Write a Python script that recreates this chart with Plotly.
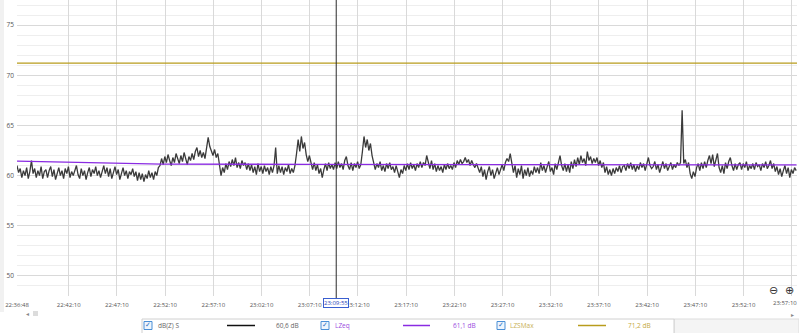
import pandas as pd
import plotly.graph_objects as go

# ---------------- data ----------------
start_time = "2024-01-01 22:36:48"
sample_step = "10s"
end_time = "2024-01-01 23:57:43"

dbz_s = [
    61.0, 60.3, 60.7, 59.8, 60.5, 60.0, 60.8, 59.7, 60.4, 61.5, 60.2, 60.7, 59.8, 60.5, 60.0, 60.9, 59.7, 60.4,
    60.6, 59.8, 60.5, 60.9, 59.9, 60.6, 59.6, 60.3, 60.8, 60.0, 60.5, 59.7, 60.7, 60.2, 60.9, 59.8, 60.4, 60.0,
    60.6, 61.0, 60.1, 59.7, 60.7, 60.0, 60.5, 59.6, 60.3, 60.8, 59.9, 60.6, 60.2, 60.9, 60.0, 60.5, 59.8, 60.4,
    61.0, 60.2, 60.8, 59.9, 60.7, 59.7, 60.4, 60.9, 60.1, 60.6, 59.6, 60.3, 60.8, 60.0, 60.5, 59.7, 60.4, 60.1,
    60.7, 59.9, 60.4, 59.5, 60.3, 59.6, 60.2, 59.4, 60.1, 59.7, 60.5, 59.8, 60.3, 59.6, 60.4, 60.0, 60.8, 61.0,
    61.7, 61.1, 61.9, 61.3, 62.1, 61.5, 61.0, 61.8, 61.3, 62.2, 61.6, 61.2, 62.0, 61.4, 62.3, 61.7, 61.1, 61.9,
    61.5, 62.2, 61.6, 62.4, 62.8, 61.9, 62.5, 61.8, 62.3, 61.7, 62.6, 63.8, 62.9, 62.5, 62.0, 62.6, 61.8, 62.2,
    61.0, 60.0, 60.8, 60.3, 61.2, 60.6, 61.4, 60.9, 61.6, 61.0, 61.8, 60.8, 61.3, 60.7, 61.5, 61.0, 61.3, 60.6,
    61.2, 60.5, 61.1, 60.3, 60.9, 60.1, 61.2, 60.4, 60.9, 60.2, 61.0, 60.4, 60.8, 60.1, 60.9, 60.3, 61.0, 62.8,
    60.2, 61.0, 60.3, 60.9, 60.1, 60.8, 60.4, 61.1, 60.2, 60.7, 60.3, 61.0, 62.2, 63.6, 62.4, 63.9, 62.7, 63.3,
    62.1, 61.4, 62.0, 61.1, 60.6, 61.3, 60.5, 61.1, 60.2, 60.7, 59.8, 60.6, 61.2, 60.5, 61.3, 60.7, 61.1, 60.6,
    61.3, 60.7, 61.4, 60.8, 61.2, 60.6, 61.5, 61.9, 61.0, 60.6, 61.3, 60.5, 61.2, 60.8, 61.4, 60.7, 61.1, 62.4,
    63.9, 62.8, 63.6, 62.5, 63.2, 62.0, 61.3, 60.6, 61.2, 60.8, 61.4, 60.5, 61.0, 60.4, 61.2, 60.7, 61.3, 60.6,
    60.9, 60.3, 61.0, 60.4, 59.8, 60.6, 60.2, 61.0, 60.5, 61.2, 60.6, 61.3, 60.7, 61.1, 60.5, 61.2, 60.8, 61.4,
    60.8, 61.3, 61.0, 62.0, 61.3, 60.7, 61.5, 60.6, 61.2, 60.4, 61.0, 60.5, 60.9, 60.3, 61.1, 60.6, 61.2, 60.7,
    61.0, 60.6, 61.3, 60.8, 61.5, 61.1, 61.6, 61.2, 61.4, 61.8, 61.3, 61.6, 61.0, 61.5, 61.1, 60.8, 61.2, 60.7,
    60.3, 60.9, 59.9, 60.6, 59.6, 60.4, 60.9, 60.0, 60.6, 59.7, 60.3, 60.8, 60.1, 60.7, 61.1, 60.5, 61.3, 61.7,
    61.4, 62.2, 61.2, 60.3, 61.0, 59.8, 60.7, 60.1, 61.0, 59.7, 60.6, 60.0, 60.8, 59.9, 60.5, 60.1, 60.9, 60.3,
    60.8, 60.2, 61.3, 60.5, 61.0, 60.3, 60.9, 61.4, 60.4, 60.8, 60.1, 61.2, 60.6, 61.3, 62.0, 61.0, 60.5, 61.2,
    60.4, 61.1, 60.3, 61.4, 60.7, 61.6, 60.9, 61.8, 61.1, 62.0, 61.3, 61.7, 61.0, 62.4, 61.5, 61.9, 61.2, 61.7,
    61.3, 61.8, 61.0, 61.5, 60.8, 61.3, 60.3, 60.9, 60.1, 60.6, 60.0, 60.7, 60.2, 60.8, 60.4, 61.0, 60.3, 60.9,
    61.0, 60.5, 61.2, 60.7, 61.3, 60.6, 61.1, 60.4, 61.0, 60.6, 61.3, 60.8, 61.2, 60.5, 61.1, 61.8, 61.0, 60.7,
    60.9, 61.4, 60.6, 61.1, 60.3, 60.9, 61.4, 60.7, 61.2, 60.5, 61.0, 61.3, 60.6, 61.1, 60.8, 61.3, 61.0, 61.3,
    66.5, 61.2, 61.6, 60.8, 61.3, 60.2, 59.7, 60.4, 59.9, 60.8, 61.2, 60.5, 61.3, 60.7, 61.4, 60.8, 61.5, 62.0,
    61.2, 62.1, 60.9, 61.5, 62.2, 60.8, 60.3, 61.0, 60.2, 61.3, 60.7, 61.4, 61.8, 61.0, 60.5, 61.2, 60.6, 61.1,
    61.3, 60.6, 61.2, 60.8, 61.4, 60.5, 61.0, 60.7, 61.2, 60.6, 61.3, 60.9, 61.1, 60.5, 61.2, 60.8, 61.4, 60.7,
    61.0, 61.5, 60.7, 61.2, 60.4, 60.9, 60.1, 60.7, 59.9, 60.5, 61.0, 60.2, 60.8, 59.8, 60.6, 60.2, 60.8, 60.5,
]

lzeq_times = ["2024-01-01 22:36:48", "2024-01-01 22:51:48", "2024-01-01 23:06:48",
              "2024-01-01 23:21:48", "2024-01-01 23:36:48", "2024-01-01 23:51:48",
              "2024-01-01 23:57:40"]
lzeq_values = [61.45, 61.15, 61.12, 61.10, 61.08, 61.07, 61.07]

lzsmax_value = 71.2

cursor_time = "2024-01-01 23:09:55"
cursor_label = "23:09:55"

x_tick_times = ["2024-01-01 22:36:48", "2024-01-01 22:42:10", "2024-01-01 22:47:10",
                "2024-01-01 22:52:10", "2024-01-01 22:57:10", "2024-01-01 23:02:10",
                "2024-01-01 23:07:10", "2024-01-01 23:12:10", "2024-01-01 23:17:10",
                "2024-01-01 23:22:10", "2024-01-01 23:27:10", "2024-01-01 23:32:10",
                "2024-01-01 23:37:10", "2024-01-01 23:42:10", "2024-01-01 23:47:10",
                "2024-01-01 23:52:10", "2024-01-01 23:57:10"]
x_tick_labels = ["22:36:48", "22:42:10", "22:47:10", "22:52:10", "22:57:10", "23:02:10",
                 "23:07:10", "23:12:10", "23:17:10", "23:22:10", "23:27:10", "23:32:10",
                 "23:37:10", "23:42:10", "23:47:10", "23:52:10", "23:57:10"]

y_tick_values = [50, 55, 60, 65, 70, 75]

legend_names = ["dB(Z) S", "LZeq", "LZSMax"]
legend_values = ["60,6 dB", "61,1 dB", "71,2 dB"]

# ---------------- layout constants ----------------
W, H = 799, 333
ML, MR, MT, MB = 17, 2, 0, 37
PW, PH = W - ML - MR, H - MT - MB
FONT = "Open Sans, Noto Sans, sans-serif"
TICK_SIZE = 6
TICK_Y = 303

BLACK = "#3a3a3a"
PURPLE = "#8a2be2"
GOLD = "#b89c1c"


def px(x):
    return (x - ML) / PW


def py(y):
    return (MT + PH - y) / PH


def label(x, y, text, size=6.5, color="#555555", xanchor="center", family=FONT, **kw):
    d = dict(xref="paper", yref="paper", x=px(x), y=py(y), text=text, showarrow=False,
             xanchor=xanchor, yanchor="middle", font=dict(family=family, size=size, color=color))
    d.update(kw)
    return d


times = pd.date_range(start=start_time, periods=len(dbz_s), freq=sample_step)

fig = go.Figure()
fig.add_trace(go.Scatter(x=times, y=dbz_s, mode="lines",
                         line=dict(color=BLACK, width=1.3), hoverinfo="skip"))
fig.add_trace(go.Scatter(x=pd.to_datetime(lzeq_times), y=lzeq_values, mode="lines",
                         line=dict(color=PURPLE, width=1.3), hoverinfo="skip"))
fig.add_trace(go.Scatter(x=[pd.Timestamp(start_time), pd.Timestamp(end_time)],
                         y=[lzsmax_value, lzsmax_value], mode="lines",
                         line=dict(color=GOLD, width=1.3), hoverinfo="skip"))

shapes = []
annotations = []

# the last tick label sits at the right edge: draw it right-aligned so it stays inside
tick_text_shown = x_tick_labels[:-1] + [""]
annotations.append(label(799, TICK_Y, x_tick_labels[-1], size=TICK_SIZE, color="#555555",
                         xanchor="right"))

# cursor line and its time label
shapes.append(dict(type="line", xref="x", yref="paper", x0=cursor_time, x1=cursor_time,
                   y0=py(298), y1=1, line=dict(color="#2a2a2a", width=1), layer="above"))
annotations.append(dict(xref="x", yref="paper", x=cursor_time, y=py(TICK_Y), text=cursor_label,
                        showarrow=False, xanchor="center", yanchor="middle",
                        font=dict(family=FONT, size=TICK_SIZE, color="#2b45b8"),
                        bgcolor="white", bordercolor="#3a5fd0", borderwidth=1, borderpad=0))

# left strip
shapes.append(dict(type="rect", xref="paper", yref="paper", x0=px(0), x1=px(4), y0=py(312),
                   y1=1, fillcolor="#f1f1f1", line=dict(width=0), layer="below"))

# scrollbar bits
annotations.append(label(27, 313.5, "◂", size=6, color="#888888"))
shapes.append(dict(type="rect", xref="paper", yref="paper", x0=px(33), x1=px(38), y0=py(316),
                   y1=py(311), fillcolor="#dcdcdc", line=dict(width=0)))
annotations.append(label(792, 315, "▸", size=6, color="#888888"))

# zoom icons
annotations.append(label(773, 290, "⊖", size=11, color="#333333", family="DejaVu Sans"))
annotations.append(label(789, 290, "⊕", size=11, color="#333333", family="DejaVu Sans"))

# legend box
shapes.append(dict(type="rect", xref="paper", yref="paper", x0=px(674), x1=px(799), y0=py(334),
                   y1=py(319), fillcolor="#f4f4f4", line=dict(color="#dddddd", width=1)))
shapes.append(dict(type="rect", xref="paper", yref="paper", x0=px(142), x1=px(674), y0=py(334),
                   y1=py(319), fillcolor="white", line=dict(color="#d0d0d0", width=1)))

leg_y = 325.5
checkbox_x = [148, 325, 501]
name_x = [156, 333, 508]
line_x = [(227, 255), (403, 430), (578, 606)]
value_right_x = [301, 478, 653]
text_colors = ["#666666", "#9b4de0", "#c9b15a"]
value_colors = ["#666666", "#9b4de0", "#c4a83c"]
line_colors = ["#111111", PURPLE, GOLD]

for i in range(3):
    cx = checkbox_x[i]
    shapes.append(dict(type="rect", xref="paper", yref="paper", x0=px(cx - 4), x1=px(cx + 4),
                       y0=py(leg_y + 4), y1=py(leg_y - 4), fillcolor="#eef5fd",
                       line=dict(color="#4a8fd6", width=1)))
    annotations.append(label(cx, leg_y, "✓", size=7, color="#2a6fc0", family="DejaVu Sans"))
    annotations.append(label(name_x[i], leg_y, legend_names[i], color=text_colors[i], xanchor="left"))
    shapes.append(dict(type="line", xref="paper", yref="paper", x0=px(line_x[i][0]), x1=px(line_x[i][1]),
                       y0=py(leg_y), y1=py(leg_y), line=dict(color=line_colors[i], width=1.5)))
    annotations.append(label(value_right_x[i], leg_y, legend_values[i], color=value_colors[i],
                             xanchor="right"))

fig.update_layout(
    width=W, height=H,
    margin=dict(l=ML, r=MR, t=MT, b=MB, pad=0, autoexpand=False),
    paper_bgcolor="white", plot_bgcolor="white",
    showlegend=False,
    shapes=shapes, annotations=annotations,
    font=dict(family=FONT, size=6.5, color="#555555"),
    xaxis=dict(
        type="date",
        range=[start_time, end_time],
        tickvals=pd.to_datetime(x_tick_times), ticktext=tick_text_shown,
        showgrid=True, gridcolor="#d9d9d9", gridwidth=1,
        zeroline=False, showline=False, ticks="",
        automargin=False,
        ticklabelstandoff=4,
        tickfont=dict(family=FONT, size=TICK_SIZE, color="#555555"),
        fixedrange=True,
    ),
    yaxis=dict(
        range=[48.0, 77.5],
        tickvals=y_tick_values,
        showgrid=True, gridcolor="#d9d9d9", gridwidth=1,
        minor=dict(dtick=1, tick0=48, showgrid=True, gridcolor="#eeeeee", gridwidth=1),
        zeroline=False, showline=False, ticks="",
        automargin=False,
        ticklabelstandoff=2,
        tickfont=dict(family=FONT, size=6.5, color="#555555"),
        fixedrange=True,
    ),
)

fig.write_html("out.html", config={"displayModeBar": False})
